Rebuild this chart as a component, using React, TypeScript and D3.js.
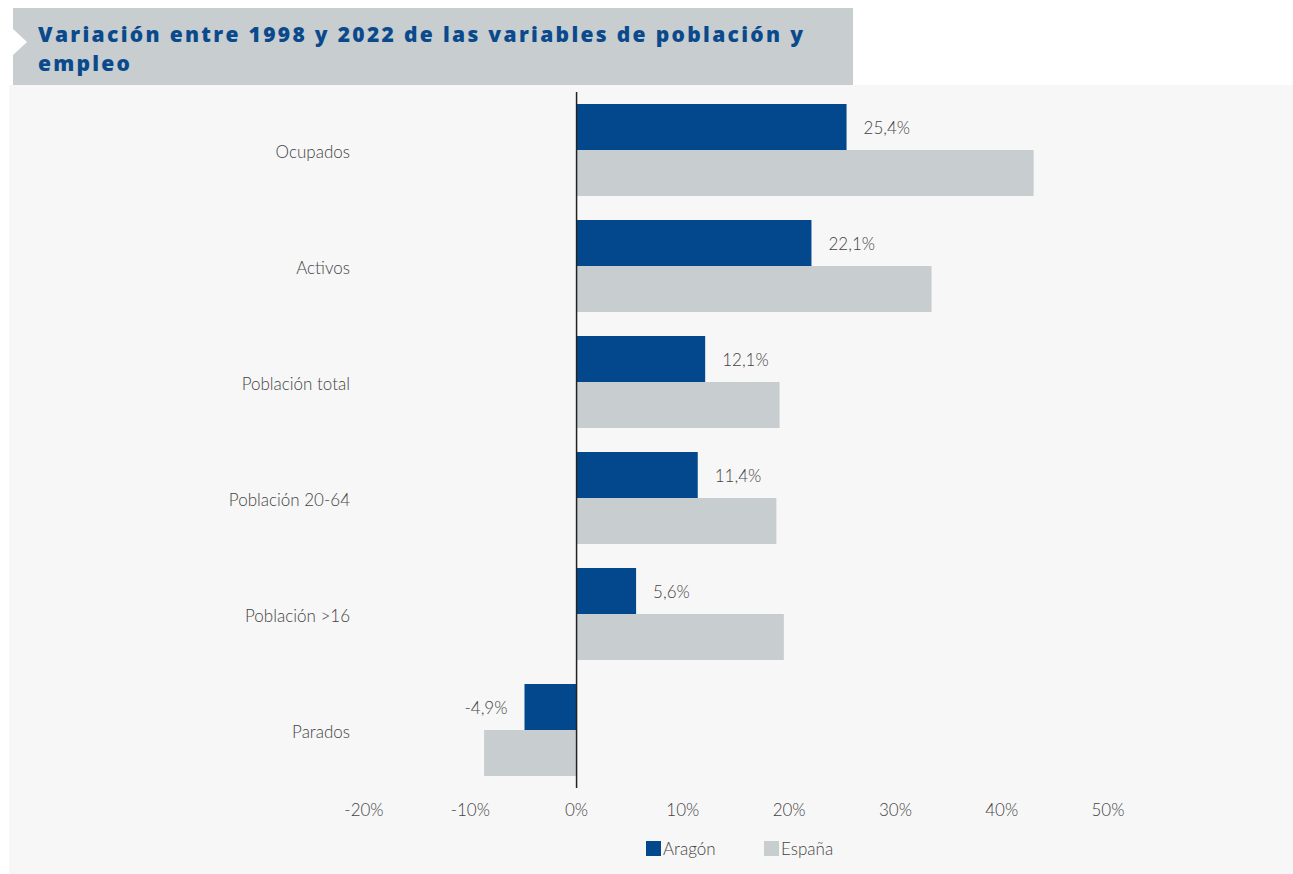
import React from "react";
import * as d3 from "d3";

const categories = ["Ocupados", "Activos", "Población total", "Población 20-64", "Población >16", "Parados"];
const aragon = [25.4, 22.1, 12.1, 11.4, 5.6, -4.9];
const espana = [43.0, 33.4, 19.1, 18.8, 19.5, -8.7];
const ticks = [-20, -10, 0, 10, 20, 30, 40, 50];
const seriesNames = ["Aragón", "España"];
const colors = ["#03478c", "#c8cdd0"];

const fmt = (v: number) => v.toFixed(1).replace(".", ",") + "%";

export default function App() {
  const W = 1293, H = 874;
  const x = d3.scaleLinear().domain([-20, 50]).range([364, 1108]);
  const y = d3.scaleBand<string>().domain(categories).range([92, 788]).paddingInner(0.207).paddingOuter(0.1035);
  const bw = y.bandwidth() / 2;
  const font = "'Lato', 'Noto Sans', sans-serif";
  return (
    <svg width={W} height={H} style={{ position: "absolute", left: 0, top: 0 }} fontFamily={font}>
      <rect x={9} y={85} width={1284} height={789} fill="#f7f7f7" />
      <rect x={13} y={8} width={840} height={77} fill="#c8cdd0" />
      <polygon points="13,29 27,42 13,55" fill="#ffffff" />
      <text x={38} y={42} fontSize={21} fontWeight={800} fill="#0a4a8c" fontFamily="'Open Sans', sans-serif"
        textLength={765} lengthAdjust="spacing">
        Variación entre 1998 y 2022 de las variables de población y
      </text>
      <text x={38} y={71} fontSize={21} fontWeight={800} fill="#0a4a8c" fontFamily="'Open Sans', sans-serif"
        textLength={92} lengthAdjust="spacing">
        empleo
      </text>
      {categories.map((c, i) => {
        const y0 = y(c)!;
        const a = aragon[i], e = espana[i];
        return (
          <g key={c}>
            <text x={350} y={y0 + bw + 2} dy="0.35em" textAnchor="end" fontSize={17} fontWeight={300} fill="#444">{c}</text>
            <rect x={x(Math.min(0, a))} y={y0} width={Math.abs(x(a) - x(0))} height={bw} fill={colors[0]} />
            <rect x={x(Math.min(0, e))} y={y0 + bw} width={Math.abs(x(e) - x(0))} height={bw} fill={colors[1]} />
            <text
              x={a >= 0 ? x(a) + 17 : x(a) - 17}
              y={y0 + bw / 2 + 1}
              dy="0.35em"
              textAnchor={a >= 0 ? "start" : "end"}
              fontSize={17}
              fontWeight={300}
              fill="#444"
            >
              {fmt(a)}
            </text>
          </g>
        );
      })}
      <line x1={x(0)} x2={x(0)} y1={92} y2={788} stroke="#222" strokeWidth={1.5} />
      {ticks.map((t) => (
        <text key={t} x={x(t)} y={810} dy="0.35em" textAnchor="middle" fontSize={17} fontWeight={300} fill="#444">
          {t + "%"}
        </text>
      ))}
      {seriesNames.map((s, i) => {
        const lx = 646 + i * 118;
        return (
          <g key={s}>
            <rect x={lx} y={841} width={15} height={15} fill={colors[i]} />
            <text x={lx + 17} y={849} dy="0.35em" fontSize={17} fontWeight={300} fill="#444">{s}</text>
          </g>
        );
      })}
    </svg>
  );
}
